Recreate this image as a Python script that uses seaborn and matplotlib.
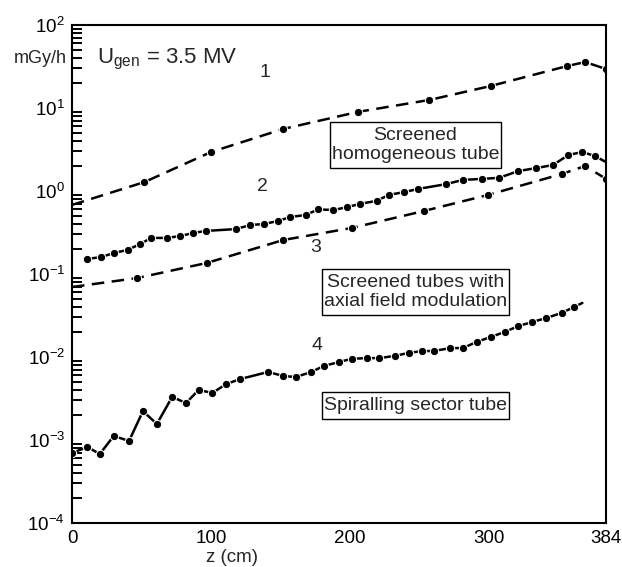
import numpy as np
import matplotlib
matplotlib.use("Agg")
import matplotlib.pyplot as plt
import matplotlib.patches as mpatches
import seaborn as sns

# curve 1: screened homogeneous tube (dashed)
z1 = [0, 52, 100, 152, 206, 257, 301, 356, 369, 384]
d1 = [0.68, 1.28, 2.95, 5.6, 9.0, 12.5, 18.4, 32.0, 35.8, 29.5]

# curve 2: screened tube with axial field modulation (solid)
z2 = [11, 21, 30, 40, 49, 57, 68, 78, 87, 96, 118, 128, 138, 148, 157, 168,
      177, 188, 198, 207, 219, 228, 239, 249, 269, 281, 295, 307, 321, 334,
      346, 357, 367, 376, 384]
d2 = [0.152, 0.160, 0.179, 0.195, 0.230, 0.272, 0.272, 0.287, 0.312, 0.330,
      0.348, 0.389, 0.400, 0.435, 0.486, 0.514, 0.600, 0.590, 0.640, 0.700,
      0.760, 0.900, 0.970, 1.06, 1.21, 1.36, 1.40, 1.44, 1.74, 1.89,
      2.06, 2.72, 2.95, 2.64, 2.23]

# curve 3: screened tubes (dashed)
z3 = [0, 47, 97, 152, 201, 253, 299, 352, 369, 384]
d3 = [0.0697, 0.0895, 0.136, 0.257, 0.358, 0.574, 0.895, 1.60, 2.0, 1.40]

# curve 4: spiralling sector tube (solid)
z4 = [0, 11, 20, 30, 41, 51, 61, 72, 82, 91, 101, 111, 121, 141, 152, 161,
      172, 181, 192, 201, 212, 221, 232, 242, 252, 260, 272, 281, 291, 301,
      311, 321, 331, 341, 352, 361, 367]
d4 = [0.000697, 0.000824, 0.000678, 0.00112, 0.000973, 0.00223, 0.00156,
      0.0033, 0.00279, 0.0040, 0.0037, 0.00473, 0.00543, 0.0066, 0.0059,
      0.00574, 0.0066, 0.0078, 0.0087, 0.0095, 0.0097, 0.0097, 0.0103,
      0.0112, 0.0118, 0.0118, 0.0128, 0.0128, 0.0152, 0.0174, 0.020,
      0.0236, 0.0264, 0.0295, 0.0339, 0.040, 0.0448]

sns.set_style("white")
plt.rcParams["font.family"] = ["Liberation Sans", "DejaVu Sans"]
plt.rcParams["mathtext.fontset"] = "custom"
plt.rcParams["mathtext.rm"] = "Liberation Sans"
plt.rcParams["mathtext.it"] = "Liberation Sans"

fig = plt.figure(figsize=(6.22, 5.67), dpi=100)
ax = fig.add_axes([0.1158, 0.0776, 0.8585, 0.8783])

dash = (0, (5, 3))
kw = dict(color="black", lw=1.8, marker="o", markersize=6, ax=ax)
sns.lineplot(x=z1, y=d1, linestyle=dash, markevery=list(range(1, len(z1))), **kw)
sns.lineplot(x=z2, y=d2, markevery=list(range(0, len(z2) - 1)), **kw)
sns.lineplot(x=z3, y=d3, linestyle=dash, markevery=list(range(1, len(z3))), **kw)
sns.lineplot(x=z4, y=d4, markevery=list(range(0, len(z4) - 1)), **kw)

ax.set_yscale("log")
ax.set_xlim(0, 384)
ax.set_ylim(1e-4, 1e2)
ax.set_xticks([0, 100, 200, 300, 384])
ax.set_xticklabels(["0", "100", "200", "300", "384"])

for s in ax.spines.values():
    s.set_linewidth(1.5)
    s.set_color("black")
ax.tick_params(axis="both", which="both", direction="in", labelsize=13.5,
               colors="black", width=1.4)
ax.tick_params(axis="y", which="major", length=10, pad=5)
ax.tick_params(axis="y", which="minor", length=7, left=True)
ax.tick_params(axis="x", which="major", length=9, width=1.0, pad=5)
ax.tick_params(axis="x", which="minor", bottom=False)
ax.yaxis.set_minor_locator(matplotlib.ticker.LogLocator(base=10, subs=np.arange(2, 10)))
ax.yaxis.set_minor_formatter(matplotlib.ticker.NullFormatter())

ax.set_xlabel("z (cm)", fontsize=13.5)
ax.xaxis.set_label_coords(0.30, -0.052)
ax.set_ylabel("")
ax.yaxis.label.set_visible(False)

fig.text(0.108, 0.897, "mGy/h", fontsize=13, ha="right", va="center")
ax.text(0.047, 0.93, r"U$_{\mathrm{gen}}$ = 3.5 MV", transform=ax.transAxes,
        fontsize=16, ha="left", va="center")

ax.text(139, 27, "1", fontsize=14, ha="center", va="center")
ax.text(137, 1.12, "2", fontsize=14, ha="center", va="center")
ax.text(175, 0.211, "3", fontsize=14, ha="center", va="center")
ax.text(176, 0.0136, "4", fontsize=14, ha="center", va="center")

labels = [
    (247, 3.58, "Screened\nhomogeneous tube"),
    (247, 0.0607, "Screened tubes with\naxial field modulation"),
    (247, 0.00257, "Spiralling sector tube"),
]
texts = [ax.text(x, y, s, fontsize=14, ha="center", va="center",
                 linespacing=1.15, zorder=5) for x, y, s in labels]

# framed boxes around the labels, a little more room top and bottom
fig.canvas.draw()
r = fig.canvas.get_renderer()
inv = ax.transAxes.inverted()
for t in texts:
    bb = t.get_window_extent(r)
    x0, y0 = inv.transform((bb.x0 - 2, bb.y0 - 5))
    x1, y1 = inv.transform((bb.x1 + 2, bb.y1 + 5))
    ax.add_patch(mpatches.Rectangle((x0, y0), x1 - x0, y1 - y0,
                                    transform=ax.transAxes, fc="white",
                                    ec="black", lw=1.0, zorder=4))

fig.savefig("out.png", dpi=100)
